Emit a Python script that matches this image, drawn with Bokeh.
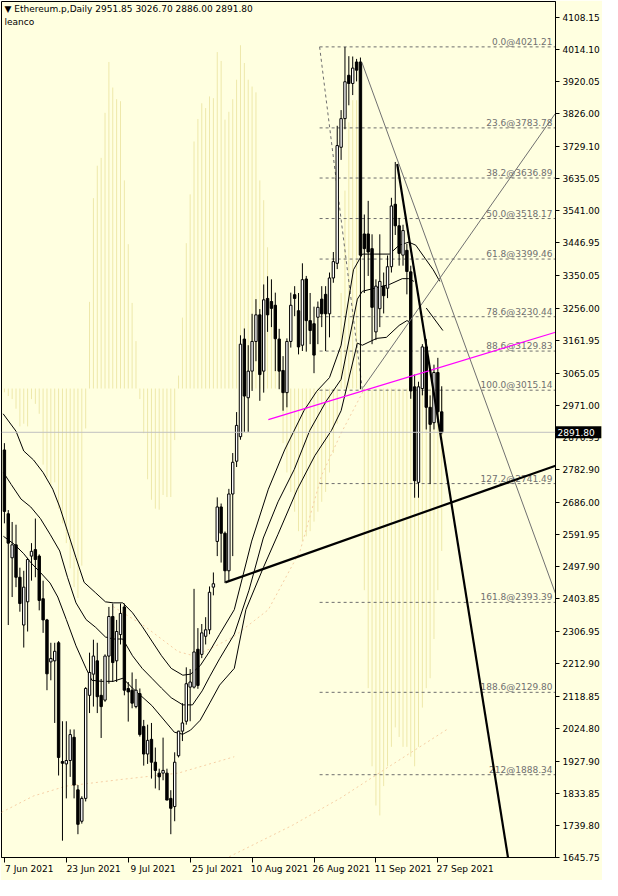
from bokeh.plotting import figure
from bokeh.models import FixedTicker, PrintfTickFormatter, Span, Range1d
from bokeh.embed import file_html
from bokeh.resources import INLINE
from bokeh.core.properties import value

# ---------------- data ----------------
opens = [2840, 2653, 2524, 2562, 2467, 2327, 2395, 2529, 2548, 2529,
         2404, 2342, 2219, 2222, 2275, 1927, 1920, 1930, 1998, 1844,
         1752, 1819, 2121, 2183, 2222, 2121, 2107, 2236, 2352, 2222,
         2299, 2380, 2141, 2136, 2088, 2126, 2030, 1949, 1992, 1925,
         1893, 1893, 1893, 1819, 1795, 1944, 2016, 2045, 2145, 2145,
         2256, 2241, 2294, 2313, 2438, 2572, 2673, 2596, 2486, 2711,
         2807, 2879, 3165, 2993, 3071, 3158, 3236, 3071, 3284, 3275,
         3264, 3165, 3073, 3008, 3158, 3295, 3248, 3147, 3341, 3219,
         3210, 3229, 3282, 3296, 3239, 3344, 3387, 3727, 3811, 3938,
         3914, 3977, 3977, 3473, 3473, 3430, 3186, 3254, 3320, 3314,
         3377, 3560, 3497, 3411, 3425, 3362, 3025, 2745, 3020, 3142,
         2965, 2920, 3067, 2951.85]
highs = [2860, 2664, 2629, 2621, 2495, 2486, 2524, 2567, 2639, 2534,
         2457, 2345, 2275, 2275, 2280, 2045, 2045, 2021, 2021, 1858,
         1825, 2145, 2246, 2284, 2275, 2169, 2241, 2380, 2390, 2342,
         2390, 2390, 2160, 2188, 2169, 2141, 2049, 2035, 2040, 1968,
         1906, 1997, 1906, 1843, 1954, 2017, 2098, 2203, 2198, 2433,
         2318, 2330, 2350, 2440, 2481, 2701, 2683, 2601, 2726, 2831,
         2951, 3176, 3196, 3147, 3239, 3282, 3253, 3325, 3349, 3340,
         3301, 3195, 3115, 3167, 3301, 3320, 3300, 3387, 3350, 3300,
         3260, 3275, 3320, 3320, 3360, 3420, 3790, 3836, 4021, 3994,
         3993, 3986, 3990, 3530, 3570, 3472, 3340, 3472, 3360, 3410,
         3579, 3684, 3520, 3500, 3444, 3380, 3061, 3040, 3150, 3165,
         3000, 3090, 3110, 3026.70]
lows = [2625, 2327, 2409, 2438, 2366, 2261, 2308, 2457, 2467, 2370,
        2304, 2136, 2165, 2040, 1886, 1695, 1819, 1882, 1819, 1714,
        1745, 1810, 2069, 2088, 2069, 1996, 2102, 2155, 2160, 2160,
        2270, 2121, 2044, 2083, 2083, 2000, 1915, 1920, 1877, 1848,
        1843, 1872, 1814, 1714, 1752, 1939, 1987, 2035, 2045, 2141,
        2140, 2230, 2270, 2300, 2414, 2529, 2510, 2450, 2457, 2529,
        2790, 2870, 2893, 2893, 3013, 3100, 2984, 3008, 3186, 3200,
        3071, 3018, 2955, 2965, 3140, 3232, 3120, 3130, 3128, 3150,
        3065, 3150, 3200, 3130, 3170, 3330, 3370, 3690, 3780, 3850,
        3880, 3920, 3018, 3300, 3350, 3150, 3162, 3200, 3240, 3285,
        3360, 3470, 3380, 3380, 3296, 2990, 2700, 2700, 3000, 2900,
        2740, 2900, 2920, 2886.00]
closes = [2660, 2567, 2562, 2467, 2390, 2438, 2519, 2543, 2519, 2399,
          2342, 2184, 2229, 2250, 1939, 1922, 1930, 2006, 1858, 1743,
          1819, 2141, 2188, 2236, 2117, 2088, 2236, 2352, 2217, 2308,
          2361, 2136, 2131, 2098, 2136, 2006, 1949, 1989, 1925, 1901,
          1882, 1901, 1814, 1790, 1925, 2016, 2040, 2155, 2160, 2248,
          2150, 2304, 2313, 2423, 2448, 2673, 2596, 2486, 2711, 2804,
          2912, 3150, 2998, 3071, 3158, 3236, 3061, 3280, 3236, 3255,
          3166, 3071, 3008, 3158, 3264, 3284, 3142, 3339, 3219, 3190,
          3118, 3258, 3239, 3239, 3344, 3392, 3732, 3811, 3919, 3914,
          3959, 3953, 3411, 3430, 3420, 3258, 3320, 3334, 3292, 3377,
          3555, 3497, 3416, 3483, 3363, 3013, 2750, 3025, 3142, 2965,
          2915, 3067, 2952, 2891.80]

# background histogram (drawn from a base level)
ghost_base = 3020
ghost = [3009, 2998, 2989, 2961, 2909, 2917, 2909, 2989, 2975, 2946,
         2797, 2760, 2737, 2745, 2668, 2625, 2567, 2493, 2438, 2406,
         2501, 2903, 3274, 3578, 3673, 3696, 3828, 3977, 3902, 3868,
         3862, 3630, 3443, 3271, 3159, 2989, 2889, 2754, 2694, 2668,
         2665, 2708, 2702, 2702, 2869, 3058, 3228, 3446, 3589, 3744,
         3810, 3856, 3842, 3876, 3871, 4006, 3980, 3808, 3831, 3868,
         3925, 4026, 3974, 3925, 3905, 3888, 3630, 3572, 3434, 3319,
         3205, 3090, 2860, 2774, 2717, 2659, 2602, 2573, 2587, 2602,
         2630, 2659, 2688, 2717, 2774, 2831, 2917,
         3300, 3600, 3800, 3865, 3865, 3800,
         2429, 2142, 1913, 1798, 1769, 1855, 1913, 1970, 2027, 1999,
         1970, 1970, 1941, 1913, 1970, 2085, 2142, 2171, 2286, 2429, 2544]

# moving-average style lines (bar index, price)
ma_up_x = [-0.33, 3.0, 5.0, 7.5, 10.0, 12.5, 14.3, 16.3, 18.5, 20.6, 23.6, 26.1, 28.1, 30.6,
           33.1, 35.6, 38.1, 40.6, 43.1, 46.1, 48.1, 50.6, 53.1, 55.6, 59.4, 63.9, 68.2, 72.4,
           77.4, 80.7, 84.0, 87.0, 90.2, 92.5, 95.7, 99.5, 102.0, 104.5, 106.3, 108.8, 110.8, 112.5]
ma_up_y = [2946, 2895, 2837, 2811, 2774, 2725, 2673, 2602, 2524, 2452, 2421, 2395, 2392, 2392,
           2363, 2323, 2280, 2237, 2200, 2180, 2183, 2208, 2251, 2300, 2372, 2573, 2725, 2840,
           2955, 3012, 3052, 3147, 3368, 3414, 3414, 3414, 3440, 3449, 3440, 3400, 3368, 3334]
ma_mid_x = [-0.25, 1.75, 4.3, 6.8, 9.3, 11.8, 14.3, 16.3, 18.5, 21.1, 23.6, 26.1, 28.1, 30.6,
            33.1, 35.6, 38.1, 40.6, 43.1, 46.1, 48.6, 51.1, 53.1, 55.6, 59.4, 63.2, 66.9, 70.7,
            74.9, 78.9, 83.2, 87.0, 91.2, 92.5, 99.5, 102.8, 104.5, 105.8]
ma_mid_y = [2774, 2739, 2696, 2673, 2639, 2593, 2544, 2467, 2392, 2343, 2320, 2292, 2286, 2286,
            2237, 2200, 2171, 2142, 2114, 2093, 2093, 2134, 2177, 2228, 2300, 2429, 2582, 2688,
            2783, 2897, 2984, 3047, 3282, 3305, 3325, 3342, 3342, 3334]
ma_low_x = [-0.25, 2.5, 5.0, 6.8, 9.3, 11.8, 13.8, 16.0, 18.5, 21.1, 22.6, 25.1, 28.1, 30.6,
            33.1, 38.1, 43.9, 46.1, 48.1, 50.6, 53.1, 55.6, 59.4, 62.4, 66.9, 70.7, 75.7, 80.2,
            84.5, 87.0, 91.2, 92.5, 96.2, 98.7, 102.0, 104.0, 105.3]
ma_low_y = [2587, 2564, 2536, 2510, 2481, 2450, 2409, 2343, 2266, 2200, 2165, 2162, 2162, 2171,
            2142, 2091, 2013, 2007, 2019, 2048, 2099, 2151, 2200, 2372, 2495, 2593, 2725, 2823,
            2897, 2955, 3153, 3147, 3167, 3170, 3205, 3219, 3213]
ma_tail_x = [109.0, 113.3]
ma_tail_y = [3256, 3190]

# faint dotted long-period lines
band_a_x = [-0.75, 7.5, 16.0, 30.6, 44.9, 59.4]
band_a_y = [1778, 1826, 1855, 1875, 1893, 1941]
band_b_x = [28.1, 36.3, 40.6, 44.9, 48.9, 53.1, 59.4, 68.2, 76.4, 81.95, 87.0, 92.7]
band_b_y = [2381, 2323, 2286, 2249, 2237, 2257, 2294, 2372, 2544, 2765, 2889, 3012]
band_c_x = [58.1, 74.4, 87.0, 99.5, 114.5]
band_c_y = [1648, 1740, 1821, 1913, 2022]

# Fibonacci retracement
fib_pct = ["0.0", "23.6", "38.2", "50.0", "61.8", "78.6", "88.6", "100.0", "127.2", "161.8", "188.6", "212"]
fib_price = [4021.21, 3783.78, 3636.89, 3518.17, 3399.46, 3230.44, 3129.83, 3015.14,
             2741.49, 2393.39, 2129.80, 1888.34]
fib_start = 81.45
fib_base_x = [81.45, 92.5]
fib_base_y = [4021.21, 3015.14]

# trend lines (bar index, price)
thick_up_x = [57.1, 142.4]
thick_up_y = [2452, 2794]
thick_dn_x = [101.5, 131.0]
thick_dn_y = [3678, 1584]
thin_dn_x = [92.4, 142.5]
thin_dn_y = [3975, 2416]
thin_up_x = [92.7, 142.3]
thin_up_y = [3023, 3825]
magenta_x = [68.2, 142.4]
magenta_y = [2929, 3185]

last_price = 2891.80
price_ticks = [4108.15, 4014.10, 3920.05, 3826.00, 3729.10, 3635.05, 3541.00, 3446.95, 3350.05,
               3256.00, 3161.95, 3065.05, 2971.00, 2876.95, 2782.90, 2686.00, 2591.95, 2497.90,
               2403.85, 2306.95, 2212.90, 2118.85, 2024.80, 1927.90, 1833.85, 1739.80, 1645.75]
date_ticks = [0, 16, 32, 48, 64, 80, 96, 112]
date_labels = ["7 Jun 2021", "23 Jun 2021", "9 Jul 2021", "25 Jul 2021",
               "10 Aug 2021", "26 Aug 2021", "11 Sep 2021", "27 Sep 2021"]

# ---------------- layout ----------------
W, H = 602, 880
RB, BB = 46, 23
FW, FH = W - RB, H - BB
X0, X1 = -0.75, 142.4
Y0, Y1 = 1645.75, 4154.2
BG = "#FFFFE0"
FONT = "DejaVu Sans"
px_x = (X1 - X0) / FW
px_y = (Y1 - Y0) / FH

p = figure(width=W, height=H, x_range=Range1d(X0, X1), y_range=Range1d(Y0, Y1),
           output_backend="svg", toolbar_location=None, y_axis_location="right",
           min_border_left=1, min_border_top=1, min_border_right=RB, min_border_bottom=BB)
p.background_fill_color = BG
p.border_fill_color = BG
p.outline_line_color = "black"
p.outline_line_width = 1
p.grid.visible = False

# axes
ya = p.yaxis[0]
ya.ticker = FixedTicker(ticks=price_ticks)
ya.formatter = PrintfTickFormatter(format="%.2f")
ya.major_tick_out = 4
ya.major_tick_in = 0
ya.minor_tick_line_color = None
ya.major_label_standoff = 3
ya.major_label_text_font = FONT
ya.major_label_text_font_size = "9px"
ya.major_label_text_color = "black"
ya.axis_line_color = "black"

# labels start at the tick (left aligned): shift label anchors by half their width
half_w = [len(s) * 5.0 / 2 for s in date_labels]
shifted = [round(t + hw * px_x, 2) for t, hw in zip(date_ticks, half_w)]
xa = p.xaxis[0]
xa.ticker = FixedTicker(ticks=shifted, minor_ticks=date_ticks)
xa.major_label_overrides = {s: lab for s, lab in zip(shifted, date_labels)}
xa.major_tick_line_color = None
xa.major_tick_out = 5
xa.major_tick_in = 0
xa.minor_tick_out = 5
xa.minor_tick_in = 0
xa.minor_tick_line_color = "black"
xa.major_label_standoff = 1
xa.major_label_text_font = FONT
xa.major_label_text_font_size = "9px"
xa.major_label_text_color = "black"
xa.axis_line_color = "black"

idx = list(range(len(opens)))

# background histogram
p.segment(x0=idx, y0=[ghost_base] * len(idx), x1=idx, y1=ghost,
          line_color="#EEE8AA", line_width=1)

# faint dotted bands
for xs, ys in [(band_a_x, band_a_y), (band_b_x, band_b_y), (band_c_x, band_c_y)]:
    p.line(xs, ys, line_color="#F5CFA5", line_dash="2 3", line_width=1)

# fib lines
for pr in fib_price:
    p.line([fib_start, X1], [pr, pr], line_color="#6E6E6E", line_dash="3 3", line_width=1)
p.line(fib_base_x, fib_base_y, line_color="#6E6E6E", line_dash="3 3", line_width=1)
p.text(x=[X1 - 3 * px_x] * len(fib_price), y=fib_price,
       text=[f"{a}@{b:.2f}" for a, b in zip(fib_pct, fib_price)],
       text_align="right", text_baseline="bottom", text_font=value(FONT),
       text_font_size="9px", text_color="#707070")

# current price line
p.add_layout(Span(location=last_price, dimension="width", line_color="#C0C0C0", line_width=1))

# moving averages
for xs, ys in [(ma_up_x, ma_up_y), (ma_mid_x, ma_mid_y), (ma_low_x, ma_low_y), (ma_tail_x, ma_tail_y)]:
    p.line(xs, ys, line_color="black", line_width=1)

# candles
p.segment(x0=idx, y0=lows, x1=idx, y1=highs, line_color="black", line_width=1)
tops = [max(o, c) for o, c in zip(opens, closes)]
bots = [min(o, c) for o, c in zip(opens, closes)]
fills = ["white" if c > o else "black" for o, c in zip(opens, closes)]
p.vbar(x=idx, width=0.62, top=tops, bottom=bots, fill_color=fills, line_color="black", line_width=1)

# trend lines
p.line(thin_dn_x, thin_dn_y, line_color="#707070", line_width=1)
p.line(thin_up_x, thin_up_y, line_color="#707070", line_width=1)
p.line(magenta_x, magenta_y, line_color="#FF00FF", line_width=1.2)
p.line(thick_up_x, thick_up_y, line_color="black", line_width=2.2)
p.line(thick_dn_x, thick_dn_y, line_color="black", line_width=2.2)

# header
p.text(x=[X0 + 3 * px_x], y=[Y1 - 3 * px_y],
       text=["\u25bc Ethereum.p,Daily  2951.85 3026.70 2886.00 2891.80"],
       text_baseline="top", text_font=value(FONT), text_font_size="9px", text_color="black")
p.text(x=[X0 + 3 * px_x], y=[Y1 - 16 * px_y], text=["leanco"],
       text_baseline="top", text_font=value(FONT), text_font_size="9px", text_color="black")

# last price marker on the price scale (overlay level so it is not clipped to the frame)
p.rect(x=[X1 + 23 * px_x], y=[last_price], width=46 * px_x, height=12 * px_y,
       fill_color="black", line_color=None, level="overlay")
p.text(x=[X1 + 2 * px_x], y=[last_price], text=[f"{last_price:.2f}"],
       text_baseline="middle", text_font=value(FONT), text_font_size="9px",
       text_color="white", level="overlay")

open("out.html", "w").write(file_html(p, INLINE))
